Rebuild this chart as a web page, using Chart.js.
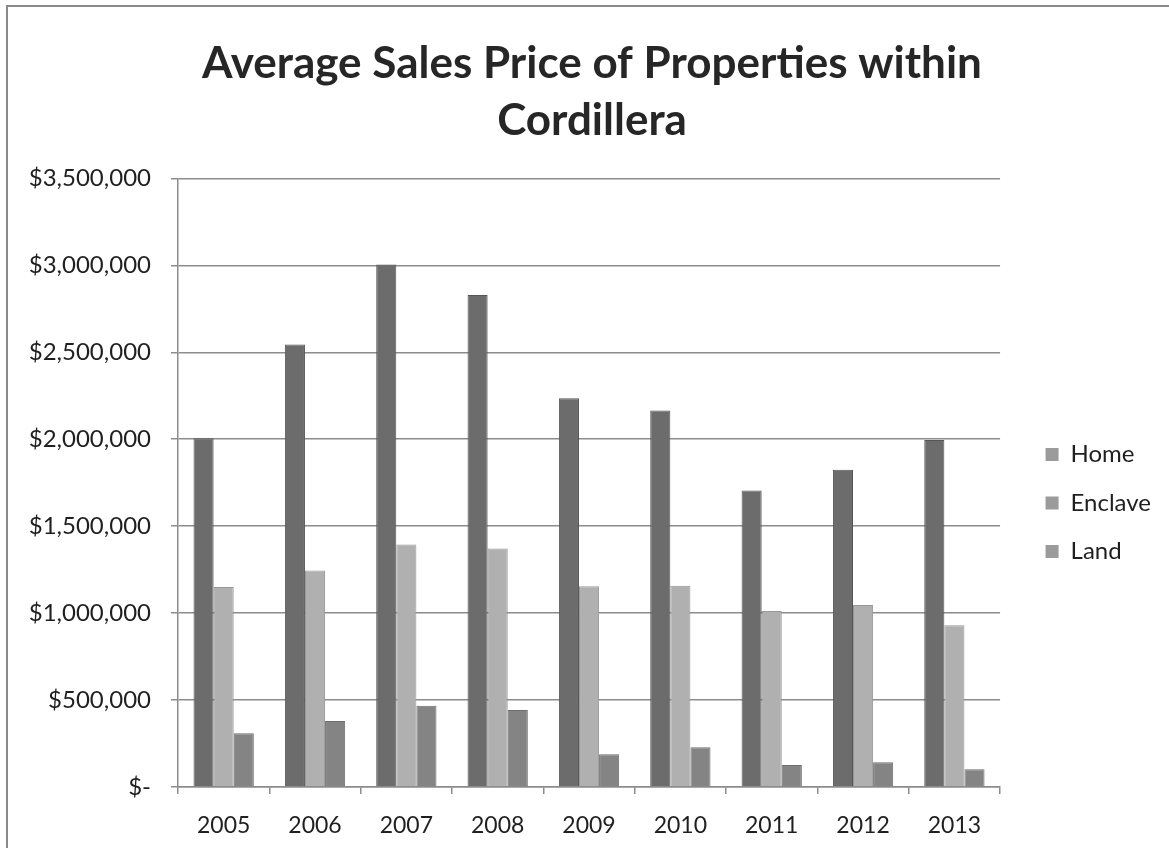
<!DOCTYPE html>
<html>
<head>
<meta charset="utf-8">
<script src="https://cdn.jsdelivr.net/npm/chart.js@4/dist/chart.umd.min.js"></script>
<style>
  html, body { margin: 0; padding: 0; background: #fff; }
  #frame {
    position: absolute; left: 6px; top: 5px;
    width: 1163px; height: 843px;
    border-left: 2px solid #8a8a8a; border-top: 2px solid #8a8a8a;
    box-sizing: border-box;
  }
  #frame canvas { display: block; }
</style>
</head>
<body>
<div id="frame"><canvas id="priceChart" width="1161" height="841"></canvas></div>
<script>
// average sale prices per year, by property type
const years = ['2005', '2006', '2007', '2008', '2009', '2010', '2011', '2012', '2013'];
const homePrices    = [2005000, 2545000, 3005000, 2830000, 2235000, 2165000, 1705000, 1825000, 1995000];
const enclavePrices = [1150000, 1245000, 1395000, 1372000, 1155000, 1157000, 1012000, 1046000, 930000];
const landPrices    = [309000, 379000, 467000, 443000, 188000, 228000, 126000, 142000, 102000];
const seriesNames = ['Home', 'Enclave', 'Land'];

const yTickStep = 500000;
const yMax = 3500000;

const font = 'Lato, "Open Sans", sans-serif';
const textColor = '#1f1f1f';
const gridColor = '#8c8c8c';

function money(v) {
  if (v === 0) return '$-';
  return '$' + v.toLocaleString('en-US');
}

const ctx = document.getElementById('priceChart');
const chart = new Chart(ctx, {
  type: 'bar',
  data: {
    labels: years,
    datasets: [
      { label: seriesNames[0], data: homePrices, backgroundColor: '#6c6c6c', borderColor: '#565656', borderWidth: 1 },
      { label: seriesNames[1], data: enclavePrices, backgroundColor: '#b0b0b0', borderColor: '#989898', borderWidth: 1 },
      { label: seriesNames[2], data: landPrices, backgroundColor: '#848484', borderColor: '#6e6e6e', borderWidth: 1 }
    ]
  },
  options: {
    responsive: false,
    animation: false,
    layout: { padding: { left: 15, right: 8, top: 0, bottom: 0 } },
    datasets: { bar: { categoryPercentage: 0.66, barPercentage: 1.0 } },
    plugins: {
      title: {
        display: true,
        text: ['Average Sales Price of Properties within', 'Cordillera'],
        color: '#262626',
        font: { family: font, size: 44, weight: 'bold', lineHeight: 1.3 },
        padding: { top: 28, bottom: 29 }
      },
      legend: {
        position: 'right',
        align: 'start',
        // empty title only used to push the entries down beside the plot
        title: { display: true, text: ' ', color: 'rgba(0,0,0,0)', font: { size: 10, lineHeight: 1 }, padding: { top: 401, bottom: 0 } },
        labels: {
          color: textColor,
          font: { family: font, size: 24 },
          boxWidth: 13,
          boxHeight: 13,
          padding: 24.5,
          generateLabels(chart) {
            const items = Chart.defaults.plugins.legend.labels.generateLabels(chart);
            items.forEach(it => { it.fillStyle = '#9b9b9b'; it.strokeStyle = '#9b9b9b'; it.lineWidth = 0; });
            return items;
          }
        }
      },
      tooltip: { enabled: false }
    },
    scales: {
      x: {
        grid: {
          display: true,
          drawOnChartArea: false,
          drawTicks: true,
          tickLength: 7,
          color: gridColor,
          lineWidth: 1.5,
          offset: true
        },
        border: { display: true, color: gridColor, width: 1.5 },
        ticks: { color: textColor, font: { family: font, size: 23 }, padding: 18 },
        afterFit(scale) { scale.height = 61; }
      },
      y: {
        min: 0,
        max: yMax,
        ticks: {
          stepSize: yTickStep,
          color: textColor,
          font: { family: font, size: 24 },
          padding: 20,
          callback: v => money(v)
        },
        grid: { color: gridColor, lineWidth: 1.5, tickLength: 7 },
        border: { display: true, color: gridColor, width: 1.5 },
        afterFit(scale) { scale.width = 155; }
      },
      // blank spacer between the plot and the legend
      gap: {
        type: 'linear',
        position: 'right',
        display: true,
        grid: { display: false },
        border: { display: false },
        ticks: { display: false },
        afterFit(scale) { scale.width = 21; }
      }
    }
  }
});
</script>
</body>
</html>
